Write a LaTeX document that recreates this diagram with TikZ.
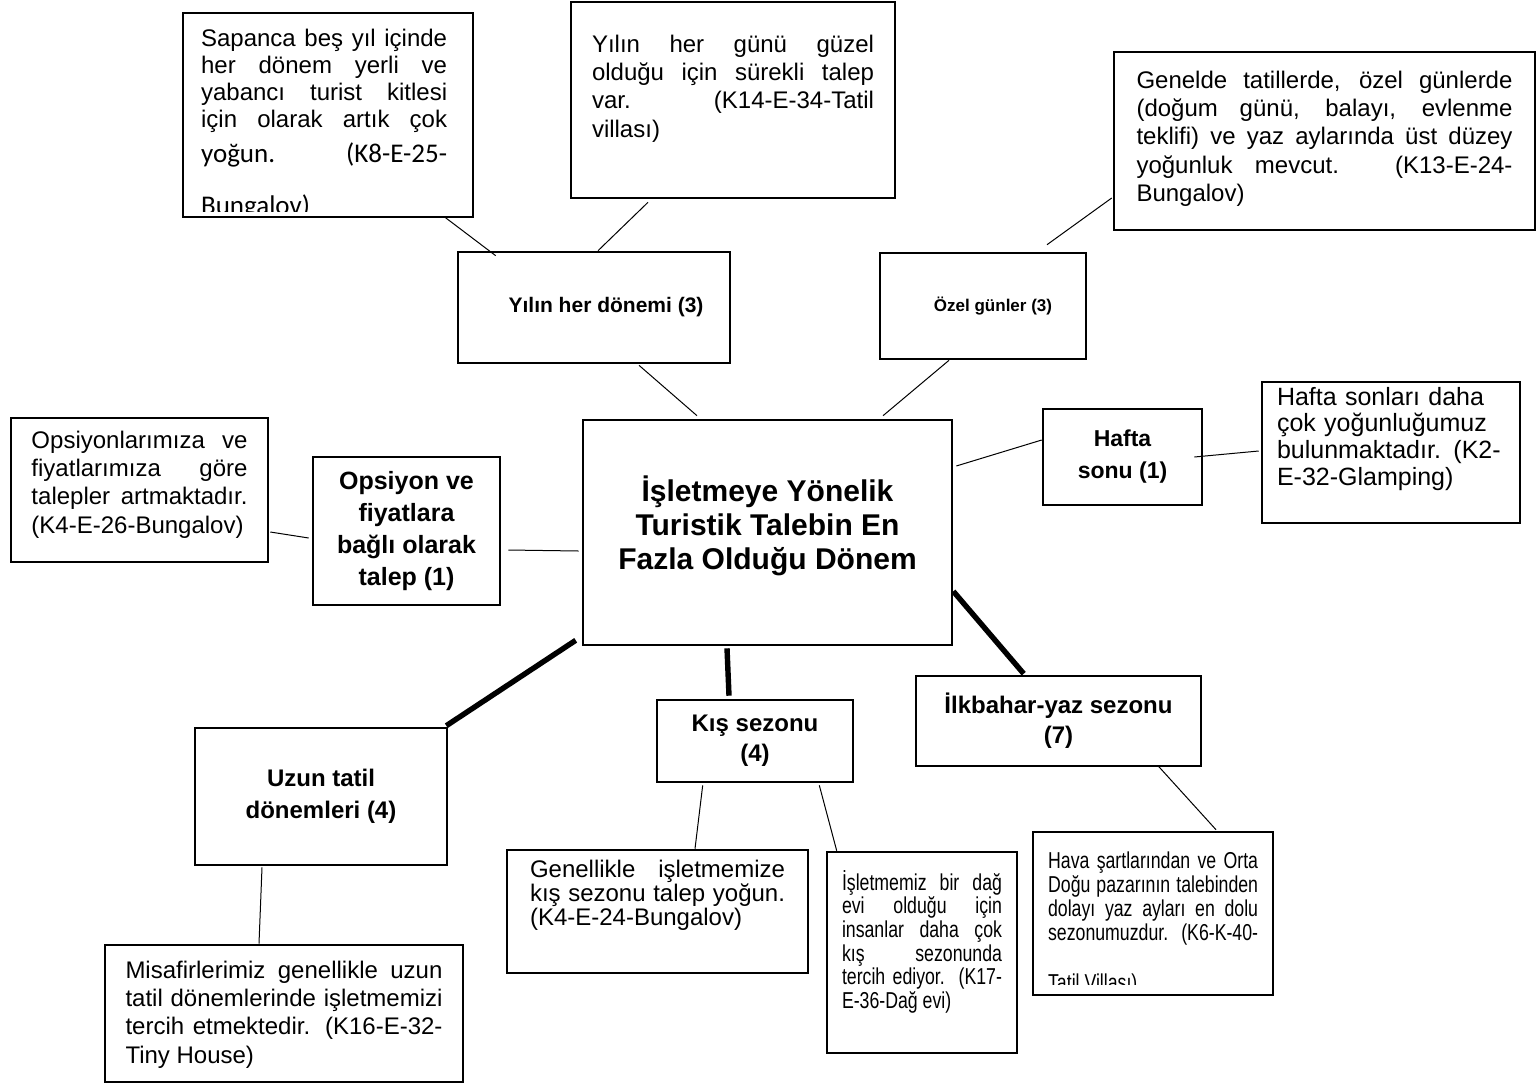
\documentclass[tikz,border=0pt]{standalone}
\usepackage{fontspec}
\setmainfont{Liberation Sans}
\newfontfamily\calibrifont{Carlito}
\newfontfamily\narrowsans[FakeStretch=0.77]{Liberation Sans}
\usetikzlibrary{calc}
\hyphenpenalty=10000
\exhyphenpenalty=10000

\begin{document}
\begin{tikzpicture}[x=0.5pt,y=-0.5pt,
	frame/.style={draw,line width=1.3pt,inner sep=0pt},
	txt/.style={frame,align=justify,font=\fontsize{12}{14.2}\selectfont},
	drop/.style={text height=10pt,text depth=#1},
	lbl/.style={frame,align=center},
	link/.style={line width=0.5pt},
	heavy/.style={line width=2.7pt}]
\useasboundingbox (0,0) rectangle (1540,1087);

% quotes
\node (sapanca) at (328,115) [frame,minimum width=145pt,minimum height=102pt] {};
\begin{scope}
\clip ($(sapanca.south west)+(0,-7)$) rectangle (sapanca.north east);
\node (sapancatxt) at ($(sapanca.north west)+(19,35)$) [align=justify,anchor=base west,inner sep=0pt,text width=123pt,font=\fontsize{12}{13.5}\selectfont] {Sapanca beş yıl içinde\linebreak her dönem yerli ve\linebreak yabancı turist kitlesi\linebreak için olarak artık çok\vspace{4pt}\linebreak {\calibrifont\fontsize{13.5}{13.5}\selectfont yoğun. (K8-E-25-\vspace{12.5pt}\linebreak Bungalov)}};
\end{scope}
\node (hergunu) at (733,100) [txt,drop=58pt,text width=141pt,minimum width=162pt,minimum height=98pt] {Yılın her günü güzel\linebreak olduğu için sürekli talep\linebreak var. (K14-E-34-Tatil\linebreak villası)};
\node (genelde) at (1324.5,141) [txt,drop=63pt,text width=188pt,minimum width=210.5pt,minimum height=89pt] {Genelde tatillerde, özel günlerde\linebreak (doğum günü, balayı, evlenme\linebreak teklifi) ve yaz aylarında üst düzey\linebreak yoğunluk mevcut. (K13-E-24-\linebreak Bungalov)};
\node (opsleft) at (139.5,490) [txt,drop=52pt,text width=108pt,minimum width=128.5pt,minimum height=72pt] {Opsiyonlarımıza ve\linebreak fiyatlarımıza göre\linebreak talepler artmaktadır.\linebreak (K4-E-26-Bungalov)};
\node (hsonlari) at (1391,452.5) [frame,align=left,drop=57.5pt,text width=114pt,minimum width=129pt,minimum height=70.5pt,font=\fontsize{12.5}{13.4}\selectfont] {Hafta sonları daha\\ çok yoğunluğumuz\\ bulunmaktadır. (K2-\\ E-32-Glamping)};
\node (misafir) at (284,1013.5) [txt,drop=45.5pt,text width=158.5pt,minimum width=179pt,minimum height=68.5pt] {Misafirlerimiz genellikle uzun\linebreak tatil dönemlerinde işletmemizi\linebreak tercih etmektedir. (K16-E-32-\linebreak Tiny House)};
\node (genellikle) at (657.5,911.5) [txt,drop=44.5pt,text width=127.5pt,minimum width=150.5pt,minimum height=61.5pt,font=\fontsize{12}{12}\selectfont] {Genellikle işletmemize\linebreak kış sezonu talep yoğun.\linebreak (K4-E-24-Bungalov)};
\node (isletmemiz) at (922,952.5) [txt,drop=72.5pt,text width=80pt,minimum width=95pt,minimum height=100.5pt,font=\narrowsans\fontsize{11.5}{11.85}\selectfont] {İşletmemiz bir dağ\linebreak evi olduğu için\linebreak insanlar daha çok\linebreak kış sezonunda\linebreak tercih ediyor. (K17-\linebreak E-36-Dağ evi)};
\node (hava) at (1153,913.5) [frame,minimum width=120pt,minimum height=81.5pt] {};
\begin{scope}
\clip ($(hava.south west)+(0,-12)$) rectangle (hava.north east);
\node (havatxt) at ($(hava.north west)+(16,38)$) [align=justify,anchor=base west,inner sep=0pt,text width=105pt,font=\narrowsans\fontsize{11.5}{12}\selectfont] {Hava şartlarından ve Orta\linebreak Doğu pazarının talebinden\linebreak dolayı yaz ayları en dolu\linebreak sezonumuzdur. (K6-K-40-\vspace{13pt}\linebreak Tatil Villası)};
\end{scope}

% themes
\node (core) at (767.5,532.5) [lbl,text height=41.5pt,text depth=5pt,minimum width=184.5pt,minimum height=112.5pt,font=\fontsize{15}{17}\selectfont\bfseries] {İşletmeye Yönelik\\ Turistik Talebin En\\ Fazla Olduğu Dönem};
\node (yhd) at (594,307.5) [lbl,minimum width=136pt,minimum height=55.5pt,font=\fontsize{10.5}{13}\selectfont\bfseries] {\hspace*{12pt}Yılın her dönemi (3)};
\node (ozel) at (983,306) [lbl,minimum width=103pt,minimum height=53pt,font=\fontsize{8.5}{10}\selectfont\bfseries] {\hspace*{10pt}Özel günler (3)};
\node (opsbold) at (406.5,531) [lbl,minimum width=93.5pt,minimum height=74pt,font=\fontsize{12.5}{16}\selectfont\bfseries] {Opsiyon ve\\ fiyatlara\\ bağlı olarak\\ talep (1)};
\node (hafta) at (1122.5,457) [lbl,minimum width=79.5pt,minimum height=48pt,font=\fontsize{11.5}{16}\selectfont\bfseries] {Hafta\\ sonu (1)};
\node (uzun) at (321,796.5) [lbl,minimum width=126pt,minimum height=68.5pt,font=\fontsize{12}{16}\selectfont\bfseries] {Uzun tatil\\ dönemleri (4)};
\node (kis) at (755,741) [lbl,minimum width=98pt,minimum height=41pt,font=\fontsize{12}{15}\selectfont\bfseries] {Kış sezonu\\ (4)};
\node (ilkbahar) at (1058.5,721) [lbl,minimum width=142.5pt,minimum height=45pt,font=\fontsize{12}{15}\selectfont\bfseries] {İlkbahar-yaz sezonu\\ (7)};

\draw [link] ($(sapanca.south)+(117,-1)$) -- ($(yhd.north west)+(39,5)$);
\draw [link] ($(hergunu.south)+(-85,3)$) -- ($(yhd.north)+(4,0)$);
\draw [link] ($(yhd.south)+(45,1)$) -- ($(core.north)+(-70.5,-3)$);
\draw [link] ($(ozel.south)+(-34,0)$) -- ($(core.north)+(115.5,-3)$);
\draw [link] ($(genelde.west)+(-1,57)$) -- ($(ozel.north)+(64,-7)$);
\draw [link] ($(opsleft.east)+(1,42)$) -- ($(opsbold.west)+(-3,7)$);
\draw [link] ($(opsbold.east)+(7,19)$) -- ($(core.west)+(-3,18.5)$);
\draw [link] ($(core.east)+(3,-66.5)$) -- ($(hafta.west)+(0,-17)$);
\draw [link] ($(hafta.east)+(-9,0)$) -- ($(hsonlari.west)+(-2,-1.5)$);
\draw [heavy] ($(core.south west)+(-6,-6)$) -- ($(uzun.north east)+(-2,-1)$);
\draw [heavy] ($(core.south)+(-40.5,2)$) -- ($(kis.north)+(-26,-3)$);
\draw [heavy] ($(core.south east)+(0,-55)$) -- ($(ilkbahar.north west)+(109,-1)$);
\draw [link] ($(kis.south west)+(47,2)$) -- ($(genellikle.north)+(37.5,0)$);
\draw [link] ($(kis.south east)+(-35,2)$) -- ($(isletmemiz.north west)+(11,0)$);
\draw [link] ($(ilkbahar.south)+(100,-1)$) -- ($(hava.north)+(63,-1)$);
\draw [link] ($(uzun.south)+(-59,1)$) -- ($(misafir.north)+(-25,0)$);
\end{tikzpicture}
\end{document}
